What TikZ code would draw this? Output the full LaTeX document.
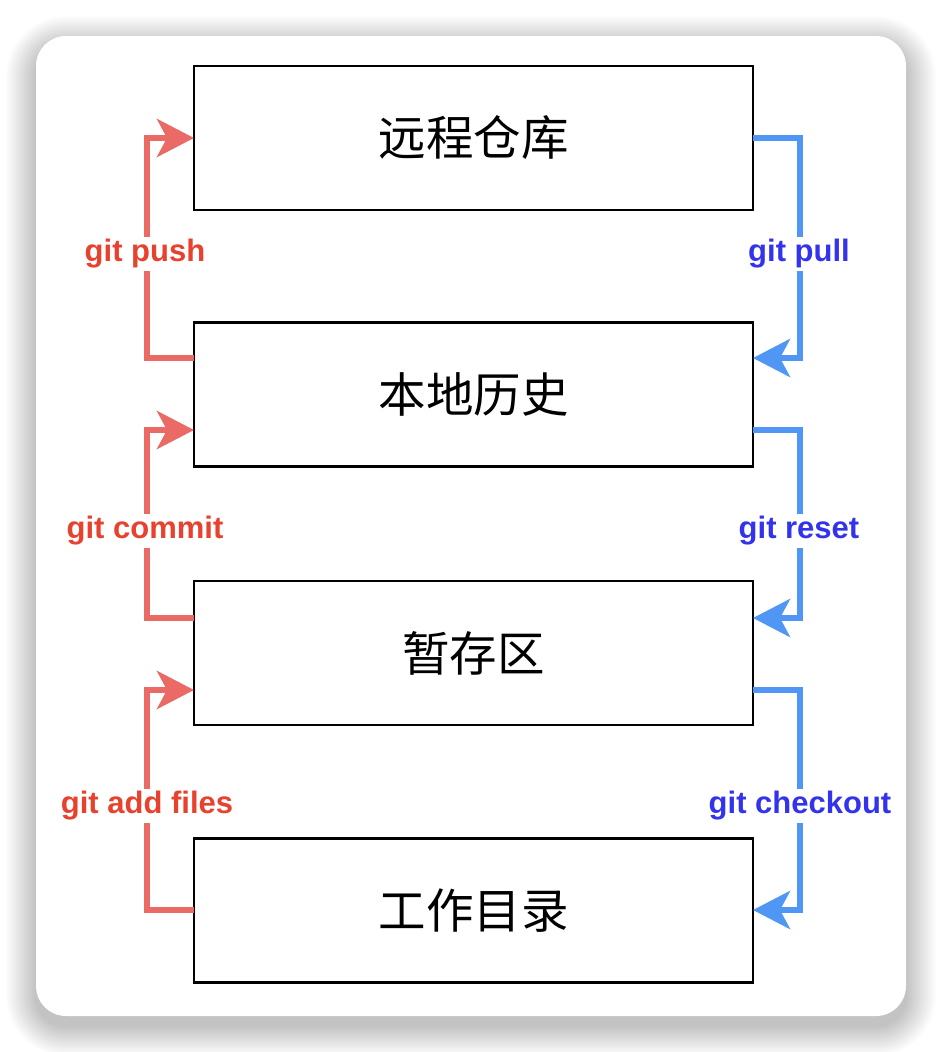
\documentclass[tikz,border=0pt]{standalone}
\usepackage{fontspec}
\setmainfont{Liberation Sans}
\newfontfamily\cjk{Noto Sans CJK SC}
\usetikzlibrary{arrows.meta}
\definecolor{redline}{HTML}{EA6B66}
\definecolor{redtext}{HTML}{E8412E}
\definecolor{blueline}{HTML}{4F96F5}
\definecolor{bluetext}{HTML}{3333EE}
\begin{document}
\begin{tikzpicture}[x=1pt,y=-1pt,
  stagebox/.style={draw=black,line width=2.2pt,fill=white,minimum width=559pt,minimum height=144pt,inner sep=0pt,font=\cjk\fontsize{47.5}{56}\selectfont},
  conn/.style={line width=6pt,line join=miter,-{Stealth[length=37pt,width=38pt,inset=10pt]}},
  pushline/.style={conn,draw=redline},
  pullline/.style={conn,draw=blueline},
  redlbl/.style={fill=white,inner sep=2pt,text=redtext,font=\bfseries\fontsize{31}{36}\selectfont},
  bluelbl/.style={fill=white,inner sep=2pt,text=bluetext,font=\bfseries\fontsize{31}{36}\selectfont}]
\useasboundingbox (0,0) rectangle (942,1052);
\fill[white] (0,0) rectangle (942,1052);
% shadow
\foreach \i in {1,...,30}{
  \fill[black,opacity=0.0065,rounded corners=30pt+\i pt] (36-\i,46-\i) rectangle (906+\i,1026+\i);
}
\fill[white,rounded corners=30pt] (36,36) rectangle (906,1016);
% boxes
\node[stagebox] (remote) at (473.5,138) {远程仓库};
\node[stagebox] (local) at (473.5,394.5) {本地历史};
\node[stagebox] (stage) at (473.5,653) {暂存区};
\node[stagebox] (work) at (473.5,910.5) {工作目录};
% anchor coordinates
\coordinate (rL1) at (194,138);
\coordinate (lL1) at (194,358);
\coordinate (lL2) at (194,430);
\coordinate (sL1) at (194,618);
\coordinate (sL2) at (194,690);
\coordinate (wL1) at (194,910);
\coordinate (rR1) at (753,138);
\coordinate (lR1) at (753,358);
\coordinate (lR2) at (753,430);
\coordinate (sR1) at (753,618);
\coordinate (sR2) at (753,690);
\coordinate (wR1) at (753,910);
% red (up) connectors
\draw[pushline] (lL1) -| (147,138) -- (rL1);
\draw[pushline] (sL1) -| (147,430) -- (lL2);
\draw[pushline] (wL1) -| (147,690) -- (sL2);
% blue (down) connectors
\draw[pullline] (rR1) -| (800,358) -- (lR1);
\draw[pullline] (lR2) -| (800,618) -- (sR1);
\draw[pullline] (sR2) -| (800,910) -- (wR1);
% labels
\node[redlbl] (lpush) at (145,254) {git push};
\node[redlbl] (lcommit) at (145,531) {git commit};
\node[redlbl] (ladd) at (147,806) {git add files};
\node[bluelbl] (lpull) at (799,254) {git pull};
\node[bluelbl] (lreset) at (799,531) {git reset};
\node[bluelbl] (lcheck) at (800,806) {git checkout};
\end{tikzpicture}
\end{document}
